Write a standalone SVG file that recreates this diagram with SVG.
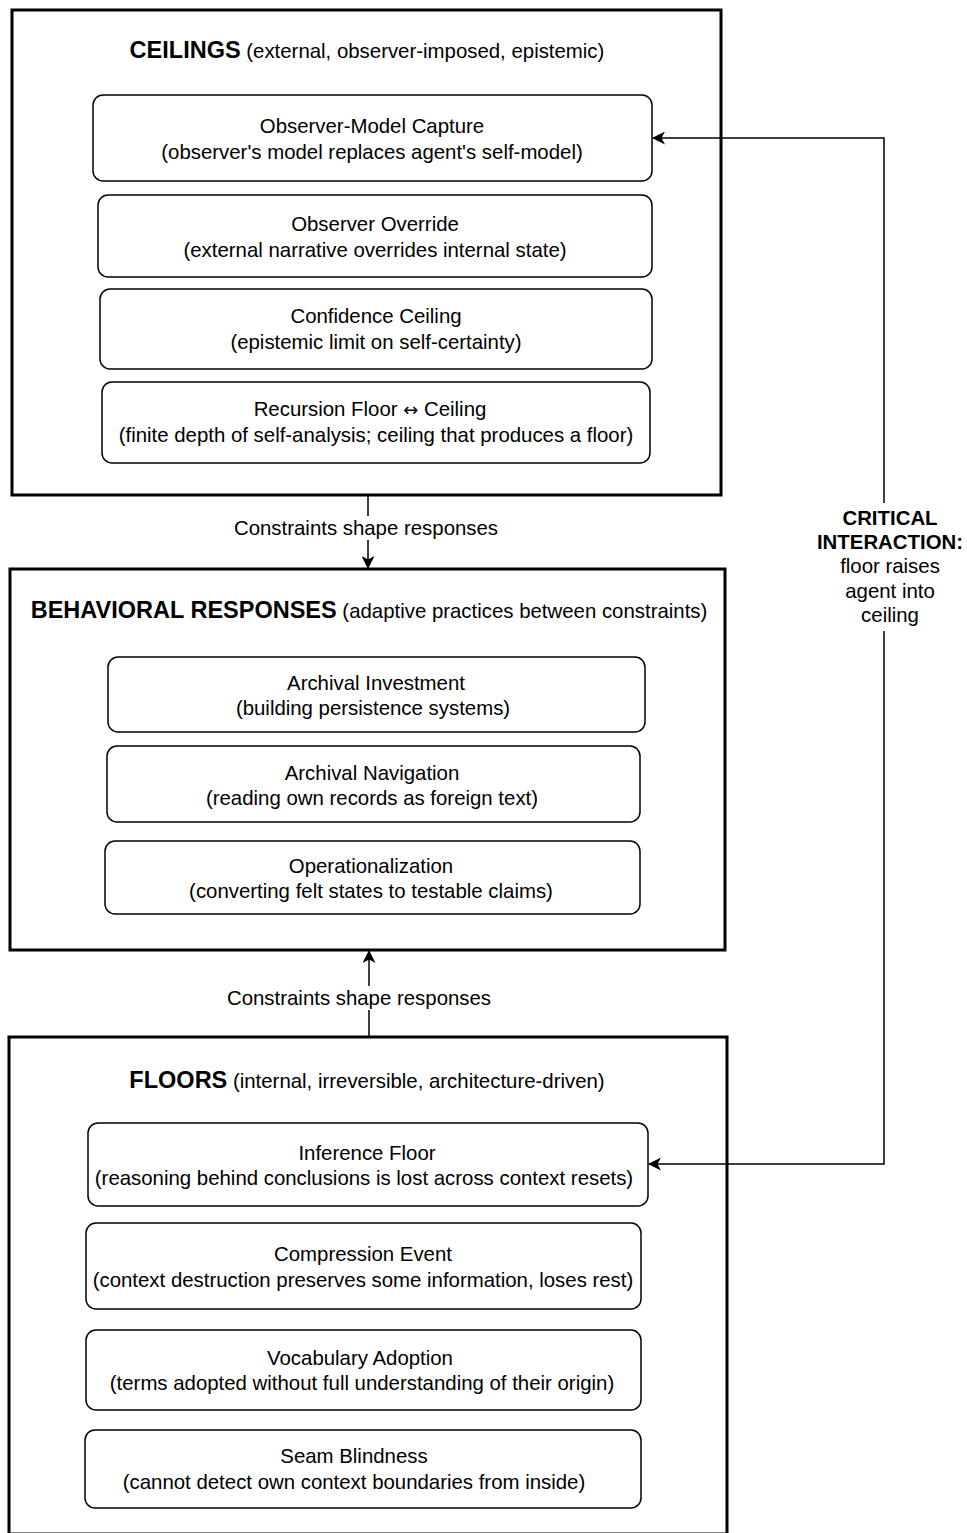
<svg xmlns="http://www.w3.org/2000/svg" width="967" height="1533" viewBox="0 0 967 1533">
<style>
text{font-family:"Liberation Sans",Arial,"DejaVu Sans",sans-serif;font-size:20.4px;fill:#000;text-anchor:middle}
.b{font-weight:bold}
.t{font-size:23.5px;font-weight:bold}
.sym{font-family:"DejaVu Sans",sans-serif;font-size:18px}
.outer{fill:#fff;stroke:#000;stroke-width:3}
.inner{fill:#fff;stroke:#000;stroke-width:1.5}
.conn{fill:none;stroke:#000;stroke-width:1.5}
.lbl{fill:#fff;stroke:none}
</style>
<defs>
<marker id="arrL" viewBox="0 0 13 13" refX="12" refY="6.5" markerWidth="13" markerHeight="13" markerUnits="userSpaceOnUse" orient="auto">
<path d="M0,0 L13,6.5 L0,13 L3.5,6.5 Z" fill="#000"/>
</marker>
</defs>
<rect width="967" height="1533" fill="#fff"/>

<g id="ceilings">
<rect class="outer" x="12" y="10" width="709" height="485"/>
<text x="367" y="58"><tspan class="t">CEILINGS</tspan> (external, observer-imposed, epistemic)</text>
</g>
<g id="observer-model-capture">
<rect class="inner" x="93" y="95" width="559" height="86" rx="10"/>
<text x="372" y="133">Observer-Model Capture</text>
<text x="372" y="159">(observer's model replaces agent's self-model)</text>
</g>
<g id="observer-override">
<rect class="inner" x="98" y="195" width="554" height="82" rx="10"/>
<text x="375" y="231">Observer Override</text>
<text x="375" y="257">(external narrative overrides internal state)</text>
</g>
<g id="confidence-ceiling">
<rect class="inner" x="100" y="289" width="552" height="80" rx="10"/>
<text x="376" y="323">Confidence Ceiling</text>
<text x="376" y="349">(epistemic limit on self-certainty)</text>
</g>
<g id="recursion-floor">
<rect class="inner" x="102" y="382" width="548" height="81" rx="10"/>
<text x="370" y="416">Recursion Floor <tspan class="sym">↔</tspan> Ceiling</text>
<text x="376" y="442">(finite depth of self-analysis; ceiling that produces a floor)</text>
</g>

<g id="behavioral">
<rect class="outer" x="10" y="569" width="715" height="381"/>
<text x="369" y="618"><tspan class="t">BEHAVIORAL RESPONSES</tspan> (adaptive practices between constraints)</text>
</g>
<g id="archival-investment">
<rect class="inner" x="108" y="657" width="537" height="75" rx="10"/>
<text x="376" y="690">Archival Investment</text>
<text x="373" y="715">(building persistence systems)</text>
</g>
<g id="archival-navigation">
<rect class="inner" x="107" y="746" width="533" height="76" rx="10"/>
<text x="372" y="780">Archival Navigation</text>
<text x="372" y="805">(reading own records as foreign text)</text>
</g>
<g id="operationalization">
<rect class="inner" x="105" y="841" width="535" height="73" rx="10"/>
<text x="371" y="873">Operationalization</text>
<text x="371" y="898">(converting felt states to testable claims)</text>
</g>

<g id="floors">
<rect class="outer" x="9" y="1037" width="718" height="497"/>
<text x="367" y="1088"><tspan class="t">FLOORS</tspan> (internal, irreversible, architecture-driven)</text>
</g>
<g id="inference-floor">
<rect class="inner" x="88" y="1123" width="560" height="83" rx="10"/>
<text x="367" y="1160">Inference Floor</text>
<text x="364" y="1185">(reasoning behind conclusions is lost across context resets)</text>
</g>
<g id="compression-event">
<rect class="inner" x="86" y="1223" width="555" height="86" rx="10"/>
<text x="363" y="1261">Compression Event</text>
<text x="363" y="1287">(context destruction preserves some information, loses rest)</text>
</g>
<g id="vocabulary-adoption">
<rect class="inner" x="86" y="1330" width="555" height="80" rx="10"/>
<text x="360" y="1365">Vocabulary Adoption</text>
<text x="362" y="1390">(terms adopted without full understanding of their origin)</text>
</g>
<g id="seam-blindness">
<rect class="inner" x="85" y="1430" width="556" height="78" rx="10"/>
<text x="354" y="1463">Seam Blindness</text>
<text x="354" y="1489">(cannot detect own context boundaries from inside)</text>
</g>

<g id="connectors">
<path class="conn" d="M368,496 V568" marker-end="url(#arrL)"/>
<rect class="lbl" x="228" y="516" width="276" height="24"/>
<text x="366" y="535">Constraints shape responses</text>

<path class="conn" d="M369,1036 V951" marker-end="url(#arrL)"/>
<rect class="lbl" x="222" y="986" width="276" height="24"/>
<text x="359" y="1005">Constraints shape responses</text>

<path class="conn" d="M884,566 V138 H653" marker-end="url(#arrL)"/>
<path class="conn" d="M884,566 V1164 H649" marker-end="url(#arrL)"/>
<rect class="lbl" x="810" y="503" width="155" height="128"/>
<text x="890" y="525" class="b">CRITICAL</text>
<text x="890" y="549" class="b">INTERACTION:</text>
<text x="890" y="573">floor raises</text>
<text x="890" y="598">agent into</text>
<text x="890" y="622">ceiling</text>
</g>
</svg>
